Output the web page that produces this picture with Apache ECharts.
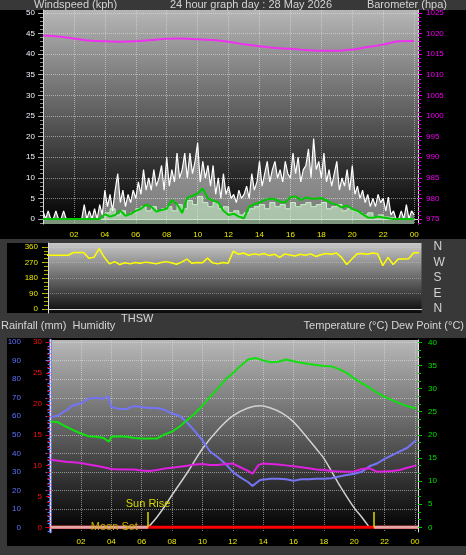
<!DOCTYPE html>
<html><head><meta charset="utf-8">
<script src="https://cdn.jsdelivr.net/npm/echarts@6/dist/echarts.min.js"></script>
<style>html,body{margin:0;padding:0;background:#383838;}#c{width:466px;height:555px;}</style>
</head><body><div id="c"></div>
<script>
// ---------- tick labels ----------
const hourTicks = [2,4,6,8,10,12,14,16,18,20,22,24];
const windTicks = [0,5,10,15,20,25,30,35,40,45,50];
const baroTicks = [975,980,985,990,995,1000,1005,1010,1015,1020,1025];
const dirTicks = [0,90,180,270,360];
const dirMinorTicks = [0,22.5,45,67.5,90,112.5,135,157.5,180,202.5,225,247.5,270,292.5,315,337.5,360];
const compass = {0:'N',90:'E',180:'S',270:'W',360:'N'};
const humTicks = [0,10,20,30,40,50,60,70,80,90,100];
const rainTicks = [0,5,10,15,20,25,30];
const tempTicks = [0,5,10,15,20,25,30,35,40];

// ---------- top panel: wind & barometer ----------
const gustStepMin = 10;   // minutes between gust samples
const windGust = [2,0,2,0,0,2, 0,0,2,0,0,0, 0,0,0,0,3.5,0, 2,0,2.5,0,3.5,1,
  7,3,6,2,7,11, 4,7,3,6,4,7, 5,9,6,12,7,10, 7,12,8,10,13,7,
  15,8,12,9,16,10, 12,16,10,16,11,14, 18.5,9,14,10,13,8, 13,6,10,5,11,6,
  8,5,6,4,7,5, 6,8,5,11,7,9, 14,8,11,14,9,12, 14,10,12,9,14,11,
  10,16,11,15,9,12, 13,17,10,19.5,12,14, 10,16,9,12,8,11, 14,7,10,8,12,7,
  13,6,8,5,7,4, 6,3,5,3,6,4, 5,2,5.3,1,2,0, 0,2,0,3.5,0,2, 1];
const avgStepMin = 20;
const windAvg = [0,0,0,0,0,0,0,0,0,0,0,0,
  1.5,2.5,1.0, 2.0,1.0,1.5, 2.5,3.0,2.0, 3.0,2.0,2.5, 3.0,2.0,3.5, 2.5,4.5,3.5,
  5.5,4.0,3.0, 4.0,2.5,3.0, 1.5,2.0,1.0, 1.5,2.5,3.0, 3.5,2.5,4.0, 3.0,3.5,2.5,
  4.0,3.0,3.5, 4.0,3.0,3.5, 4.0,2.5,3.0, 3.5,2.0,2.5, 2.0,1.5,1.0, 1.5,0.5,1.0,
  0.5,0.3,0, 0,0,0, 0];
const windTenMin = [0,0,0,0,0,0,0,0,0,0,0,0,
  1.2,0.6,1.0, 2.0,0.8,1.2, 2.0,2.5,3.5, 3.0,1.8,2.2, 2.5,4.6,3.6, 1.5,5.2,5.6,
  6.2,7.4,5.0, 4.5,4.0,2.0, 1.0,1.3,0.6, 0.2,3.0,3.6, 4.0,4.6,4.9, 4.8,4.2,4.0,
  5.3,5.5,4.6, 5.2,5.0,4.9, 5.1,4.5,3.8, 3.5,2.8,3.3, 2.4,2.0,1.2, 0.4,0.3,0.6,
  0.4,0.2,0, 0,0,0, 0];
const baroStepMin = 60;
const barometer = [1019.5,1019.3,1018.8,1018.3,1018.1,1018.0,1018.1,1018.4,1018.7,1018.8,
  1018.6,1018.4,1018.0,1017.4,1016.9,1016.5,1016.3,1016.0,1015.8,1015.8,
  1016.1,1016.7,1017.3,1018.1,1018.2];

// ---------- middle panel: wind direction ----------
const dirStepMin = 20;
const windDir = [312,312,312,312,312,312, 328,328,328,295,300,350,
  300,262,275, 258,268,262, 270,265,272, 268,262,270, 275,268,260, 272,290,265,
  270,268,295, 268,262,270, 265,335,318, 325,312,320, 315,322,310, 318,300,320,
  314,308,318, 312,320,305, 315,322,318, 325,300,258, 290,320,322, 318,325,320,
  252,300,258, 290,290,292, 326,326];

// ---------- bottom panel: [hour, value] ----------
const humidity = [[0,59.5],[0.5,60.5],[1,63],[1.5,66],[2,67],[2.5,69.5],[3,70],[3.5,69.5],[3.8,70.8],[4,65],
  [4.5,64],[5,64],[5.5,65.5],[6,65],[6.5,64.5],[7,64.5],[7.5,63.5],[8,61.5],[8.5,60.3],[9,56.5],
  [9.5,52],[10,47],[10.5,41],[11,38],[11.5,34.5],[12,30],[12.5,27],[13,24.5],[13.3,22.4],[13.8,25.6],
  [14.5,26.3],[15,26.3],[15.5,26],[16,25.2],[16.5,26],[17,26],[17.5,26.3],[18,26.2],[18.5,26.5],[19,27.5],
  [19.5,28.3],[20,29],[20.5,30],[21,33],[21.5,34.5],[22,37],[22.5,39],[23,41],[23.5,43],[24.1,47.3]];
const temperature = [[0,22.9],[0.5,22.7],[1,21.8],[1.5,21.0],[2,20.3],[2.5,19.7],[3,19.6],[3.5,19.3],[3.85,18.5],[4,19.6],
  [4.5,19.7],[5,19.6],[5.5,19.3],[6,19.2],[6.5,19.2],[7,19.2],[7.5,20.1],[8,20.7],[8.5,21.8],[9,23.2],
  [9.5,24.6],[10,26.3],[10.5,28.2],[11,30.0],[11.5,31.9],[12,33.3],[12.5,34.9],[13,36.3],[13.5,36.6],[14,36.1],
  [14.5,35.7],[15,35.8],[15.5,36.3],[16,35.9],[16.5,35.6],[17,35.3],[17.5,35.1],[18,34.9],[18.5,34.8],[19,34.2],
  [19.5,33.4],[20,32.2],[20.5,31.2],[21,30.2],[21.5,29.1],[22,28.2],[22.5,27.5],[23,26.8],[23.5,26.2],[24.1,25.7]];
const dewPoint = [[0,14.6],[0.5,14.4],[1,14.2],[1.5,14.1],[2,13.9],[2.5,13.6],[3,13.3],[3.5,13.0],[4,12.6],[4.5,12.5],
  [5,12.5],[5.5,12.5],[6,12.3],[6.5,12.2],[7,12.4],[7.5,12.7],[8,12.9],[8.5,13.1],[9,13.3],[9.5,13.6],
  [10,13.7],[10.5,13.5],[11,13.5],[11.5,13.7],[12,13.8],[12.5,13.0],[13,12.2],[13.3,11.6],[13.7,13.5],[14,13.8],
  [14.5,13.7],[15,13.6],[15.5,13.4],[16,13.2],[16.5,13.0],[17,12.8],[17.5,12.5],[18,12.4],[18.5,12.2],[19,12.1],
  [19.5,12.0],[20,12.1],[20.5,12.6],[21,12.8],[21.5,12.0],[22,12.1],[22.5,12.2],[23,12.4],[23.5,12.9],[24.1,13.4]];
const sunCurve = [[6.42,0],[7,2.2],[7.65,5.2],[8,7.0],[9,11.8],[10,17.0],[11,21.0],[12,24.1],[13,25.8],[13.8,26.3],
  [14.5,25.8],[15.3,24.6],[16,22.8],[17,19.0],[17.5,17.0],[18,14.9],[19,9.3],[20,4.2],[20.5,2.2],[21,0]];
const rainfall = [[-0.04,0],[24.2,0]];
const sunRise = 6.42, sunSet = 21.3, moonSet = 4.2;

// ---------- helpers ----------
const FONT = 'Liberation Sans';
const pad = v => { v = Math.round(v) % 24; return (v < 10 ? '0' : '') + v; };
const plain = v => String(v);
const series2 = (arr, stepMin) => arr.map((v, i) => [i * stepMin / 60, v]);
const dotted = c => ({show: true, lineStyle: {type: 'dotted', color: c, width: 1}});
const grad = (a, b) => ({type: 'linear', x: 0, y: 0, x2: 0, y2: 1, colorStops: [{offset: 0, color: a}, {offset: 1, color: b}]});
const txt = (x, y, s, align) => ({type: 'text', x: x, y: y, z: 5, silent: true,
  style: {text: s, fill: '#d4d4d4', font: '11px "' + FONT + '"', align: align || 'left', verticalAlign: 'middle'}});

const chart = echarts.init(document.getElementById('c'), null, {renderer: 'canvas'});
chart.setOption({
  animation: false,
  backgroundColor: '#383838',
  textStyle: {fontFamily: FONT},
  graphic: [
    {type: 'rect', z: -10, silent: true, shape: {x: 0, y: 10, width: 466, height: 229}, style: {fill: '#000'}},
    {type: 'rect', z: -10, silent: true, shape: {x: 7, y: 243, width: 41, height: 70}, style: {fill: '#000'}},
    {type: 'rect', z: -10, silent: true, shape: {x: 7, y: 338, width: 459, height: 208}, style: {fill: '#000'}},
    txt(34, 5, 'Windspeed (kph)'),
    txt(251, 5, '24 hour graph day : 28 May 2026', 'center'),
    txt(447, 5, 'Barometer (hpa)', 'right'),
    txt(1, 326, 'Rainfall (mm)  Humidity'),
    txt(121, 319, 'THSW'),
    txt(464, 326, 'Temperature (°C) Dew Point (°C)', 'right')
  ],
  grid: [
    {left: 43, top: 10, width: 375, height: 214, show: true, borderWidth: 0, backgroundColor: grad('#b6b6b6', '#000000')},
    {left: 48, top: 243, width: 373.5, height: 70, show: true, borderWidth: 0, backgroundColor: grad('#c8c8c8', '#0a0a0a')},
    {left: 50, top: 340, width: 368, height: 192, show: true, borderWidth: 0, backgroundColor: grad('#b8b8b8', '#000000')}
  ],
  xAxis: [
    {type: 'value', gridIndex: 0, min: 0, max: 24.25, splitNumber: 12,
      axisLine: {show: true, lineStyle: {color: '#d8d8d8'}}, axisTick: {show: false},
      axisLabel: {customValues: hourTicks, formatter: pad, color: '#ecec00', fontSize: 8, margin: 7},
      splitLine: dotted('rgba(225,225,225,0.55)')},
    {type: 'value', gridIndex: 1, min: 0.36, max: 24.5, splitNumber: 12,
      axisLine: {show: true, lineStyle: {color: '#e0e0e0'}}, axisTick: {show: false},
      axisLabel: {show: false}, splitLine: {show: false}},
    {type: 'value', gridIndex: 2, min: -0.04, max: 24.2, splitNumber: 12,
      axisLine: {show: true, lineStyle: {color: '#e0e0e0'}}, axisTick: {show: false},
      axisLabel: {customValues: hourTicks, formatter: pad, color: '#ecec00', fontSize: 8, margin: 6},
      splitLine: dotted('rgba(225,225,225,0.55)')}
  ],
  yAxis: [
    {type: 'value', gridIndex: 0, position: 'left', min: -1.2, max: 50.7, splitNumber: 10,
      axisLine: {show: true, lineStyle: {color: '#d8d8d8'}},
      axisTick: {show: true, customValues: windTicks, length: 5, lineStyle: {color: '#a8a8a8'}},
      minorTick: {show: true, splitNumber: 5, length: 3, lineStyle: {color: '#8c8c8c'}},
      axisLabel: {customValues: windTicks, formatter: plain, color: '#eef4ff', fontSize: 8, margin: 8},
      splitLine: dotted('rgba(225,225,225,0.55)')},
    {type: 'value', gridIndex: 0, position: 'right', min: 973.8, max: 1025.7, splitNumber: 10,
      axisLine: {show: true, lineStyle: {color: '#d8d8d8'}},
      axisTick: {show: true, customValues: baroTicks, length: 4, lineStyle: {color: '#e000e0'}},
      minorTick: {show: true, splitNumber: 5, length: 3, lineStyle: {color: '#c000c0'}},
      axisLabel: {customValues: baroTicks, formatter: plain, color: '#f000f0', fontSize: 8, margin: 8},
      splitLine: {show: false}},
    {type: 'value', gridIndex: 1, position: 'left', min: -23, max: 383, splitNumber: 4,
      axisLine: {show: true, lineStyle: {color: '#e0e0e0'}},
      axisTick: {show: true, customValues: dirTicks, length: 6, lineStyle: {color: '#c8c800'}},
      axisLabel: {customValues: dirTicks, formatter: plain, color: '#e8e800', fontSize: 8, margin: 10},
      splitLine: dotted('rgba(230,230,230,0.35)')},
    {type: 'value', gridIndex: 1, position: 'left', min: -23, max: 383, splitNumber: 4,
      axisLine: {show: false},
      axisTick: {show: true, customValues: dirMinorTicks, length: 4, lineStyle: {color: '#a8a800'}},
      axisLabel: {show: false}, splitLine: {show: false}},
    {type: 'value', gridIndex: 1, position: 'right', min: -23, max: 383, splitNumber: 4,
      axisLine: {show: false}, axisTick: {show: false},
      axisLabel: {customValues: dirTicks, formatter: v => compass[v], color: '#d4d4d4', fontSize: 12, margin: 12},
      splitLine: {show: false}},
    {type: 'value', gridIndex: 2, position: 'left', offset: 20, min: -2.5, max: 101.2, splitNumber: 10,
      axisLine: {show: true, lineStyle: {color: '#6f7cf0', width: 2.5}},
      axisTick: {show: true, customValues: humTicks, length: 5, lineStyle: {color: '#6f7cf0'}},
      minorTick: {show: true, splitNumber: 5, length: 3, lineStyle: {color: '#6f7cf0'}},
      axisLabel: {customValues: humTicks, formatter: plain, color: '#6272ff', fontSize: 8, margin: 9},
      splitLine: dotted('rgba(225,225,225,0.55)')},
    {type: 'value', gridIndex: 2, position: 'left', offset: 0, min: -0.76, max: 30.37, splitNumber: 6,
      axisLine: {show: true, lineStyle: {color: '#e4e4e4'}},
      axisTick: {show: true, customValues: rainTicks, length: 4, lineStyle: {color: '#e00000'}},
      minorTick: {show: true, splitNumber: 5, length: 3, lineStyle: {color: '#c00000'}},
      axisLabel: {customValues: rainTicks, formatter: plain, color: '#ff1010', fontSize: 8, margin: 8},
      splitLine: {show: false}},
    {type: 'value', gridIndex: 2, position: 'right', min: -1.0, max: 40.5, splitNumber: 8,
      axisLine: {show: true, lineStyle: {color: '#e4e4e4'}},
      axisTick: {show: true, customValues: tempTicks, length: 4, lineStyle: {color: '#00d000'}},
      minorTick: {show: true, splitNumber: 3, length: 3, lineStyle: {color: '#00c000'}},
      axisLabel: {customValues: tempTicks, formatter: plain, color: '#00e000', fontSize: 8, margin: 10},
      splitLine: {show: false}}
  ],
  series: [
    {name: 'Gust', type: 'line', xAxisIndex: 0, yAxisIndex: 0, data: series2(windGust, gustStepMin),
      symbol: 'none', lineStyle: {color: '#ffffff', width: 1.2}, areaStyle: {color: 'rgba(255,255,255,0.68)'}},
    {name: 'Average', type: 'line', xAxisIndex: 0, yAxisIndex: 0, data: series2(windAvg, avgStepMin), step: 'end',
      symbol: 'none', lineStyle: {color: '#c8f0c8', width: 1}, areaStyle: {color: 'rgba(196,236,196,0.9)', origin: 'start'}},
    {name: 'Wind', type: 'line', xAxisIndex: 0, yAxisIndex: 0, data: series2(windTenMin, avgStepMin),
      symbol: 'none', lineStyle: {color: '#00c800', width: 2}},
    {name: 'Barometer', type: 'line', xAxisIndex: 0, yAxisIndex: 1, data: series2(barometer, baroStepMin),
      symbol: 'none', smooth: 0.3, lineStyle: {color: '#f030f0', width: 2}},
    {name: 'Direction', type: 'line', xAxisIndex: 1, yAxisIndex: 2, data: series2(windDir, dirStepMin),
      symbol: 'none', lineStyle: {color: '#ffff00', width: 1.5}},
    {name: 'Sun', type: 'line', xAxisIndex: 2, yAxisIndex: 7, data: sunCurve, smooth: 0.4,
      symbol: 'none', lineStyle: {color: '#d0d0d0', width: 1.5}},
    {name: 'Humidity', type: 'line', xAxisIndex: 2, yAxisIndex: 5, data: humidity,
      symbol: 'none', lineStyle: {color: '#7474f4', width: 2}},
    {name: 'Dew Point', type: 'line', xAxisIndex: 2, yAxisIndex: 7, data: dewPoint,
      symbol: 'none', lineStyle: {color: '#e020e0', width: 2}},
    {name: 'Temperature', type: 'line', xAxisIndex: 2, yAxisIndex: 7, data: temperature,
      symbol: 'none', lineStyle: {color: '#10e010', width: 2}},
    {name: 'Rainfall', type: 'line', xAxisIndex: 2, yAxisIndex: 6, data: rainfall,
      symbol: 'none', lineStyle: {color: '#ff0000', width: 3}, z: 3,
      markLine: {symbol: 'none', silent: true, lineStyle: {color: '#d8d800', width: 1.5, type: 'solid'},
        data: [
          [{coord: [sunRise, 0], label: {show: true, position: 'end', formatter: 'Sun Rise', color: '#d8d800', fontSize: 11, distance: 2}},
           {coord: [sunRise, 2.5]}],
          [{coord: [sunSet, 0], label: {show: false}}, {coord: [sunSet, 2.5]}]
        ]},
      markPoint: {silent: true, symbol: 'rect', symbolSize: [1, 1], itemStyle: {color: 'rgba(0,0,0,0)'},
        label: {show: true, position: 'inside', formatter: 'Moon Set', color: '#c8b000', fontSize: 11},
        data: [{coord: [moonSet, 0]}]}},
    {name: 'NightAM', type: 'line', xAxisIndex: 2, yAxisIndex: 6, data: [[rainfall[0][0], 0], [sunRise, 0]],
      symbol: 'none', lineStyle: {color: '#e4a4a4', width: 3}, z: 4},
    {name: 'NightPM', type: 'line', xAxisIndex: 2, yAxisIndex: 6, data: [[sunSet, 0], [rainfall[1][0], 0]],
      symbol: 'none', lineStyle: {color: '#e4a4a4', width: 3}, z: 4}
  ]
});
</script></body></html>
